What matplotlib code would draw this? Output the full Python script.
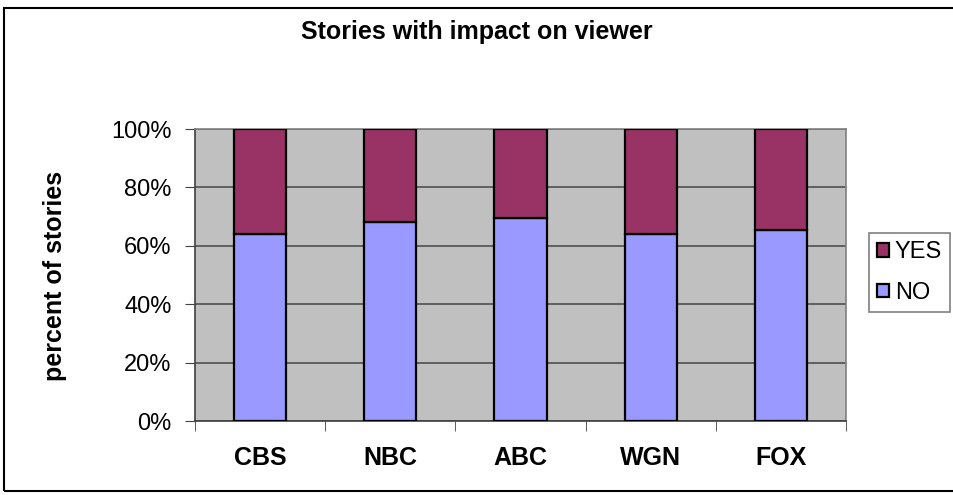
import matplotlib.pyplot as plt
from matplotlib.patches import Rectangle

plt.rcParams['font.family'] = ['Liberation Sans', 'DejaVu Sans']

# Data
networks = ['CBS', 'NBC', 'ABC', 'WGN', 'FOX']
no_pct = [64, 68, 69.5, 64, 65.5]
yes_pct = [100 - v for v in no_pct]

fig = plt.figure(figsize=(9.54, 4.95), dpi=100)
ax = fig.add_axes([195 / 954, 1 - 421 / 495, 651 / 954, 292 / 495])
ax.set_facecolor('#C0C0C0')

x = range(len(networks))
ax.bar(x, no_pct, width=0.4, color='#9999FF', edgecolor='black', linewidth=1.6,
       label='NO', zorder=3)
ax.bar(x, yes_pct, bottom=no_pct, width=0.4, color='#993366', edgecolor='black',
       linewidth=1.6, label='YES', zorder=3)

ax.set_xlim(-0.5, 4.5)
ax.set_ylim(0, 100)
ax.set_yticks(range(0, 101, 20))
ax.set_yticklabels([f'{v}%' for v in range(0, 101, 20)], fontsize=17)
ax.set_xticks(list(x))
ax.set_xticklabels(networks, fontsize=18, fontweight='bold')
ax.set_xticks([i - 0.5 for i in range(len(networks) + 1)], minor=True)
ax.tick_params(axis='x', which='major', length=0, pad=18)
ax.tick_params(axis='x', which='minor', length=7, direction='out', color='#404040')
ax.tick_params(axis='y', length=7, direction='out', color='#404040', pad=10)
ax.grid(axis='y', color='#505050', linewidth=1.2, zorder=1)
for s in ax.spines.values():
    s.set_color('#808080')
    s.set_linewidth(1.2)
ax.spines['left'].set_color('#404040')
ax.spines['bottom'].set_color('#404040')

fig.text(55 / 954, 1 - 276 / 495, 'percent of stories', rotation=90,
         ha='center', va='center', fontsize=18, fontweight='bold')

fig.text(477 / 954, 1 - 32 / 495, 'Stories with impact on viewer', ha='center',
         va='center', fontsize=18, fontweight='bold')

handles, labels = ax.get_legend_handles_labels()
leg = fig.legend(handles[::-1], labels[::-1], loc='upper left',
                 bbox_to_anchor=(869 / 954, 1 - 233 / 495), fontsize=17,
                 frameon=True, fancybox=False, handlelength=0.5, handleheight=0.5,
                 handletextpad=0.25, borderpad=0.35, labelspacing=0.8,
                 borderaxespad=0)
leg.get_frame().set_edgecolor('#606060')
leg.get_frame().set_linewidth(1.2)

# outer chart border (right side runs off the image)
fig.patches.append(Rectangle((4 / 954, 4 / 495), 1.0, 483 / 495,
                             transform=fig.transFigure, fill=False,
                             edgecolor='black', linewidth=1.5))

plt.savefig('out.png', dpi=100)
